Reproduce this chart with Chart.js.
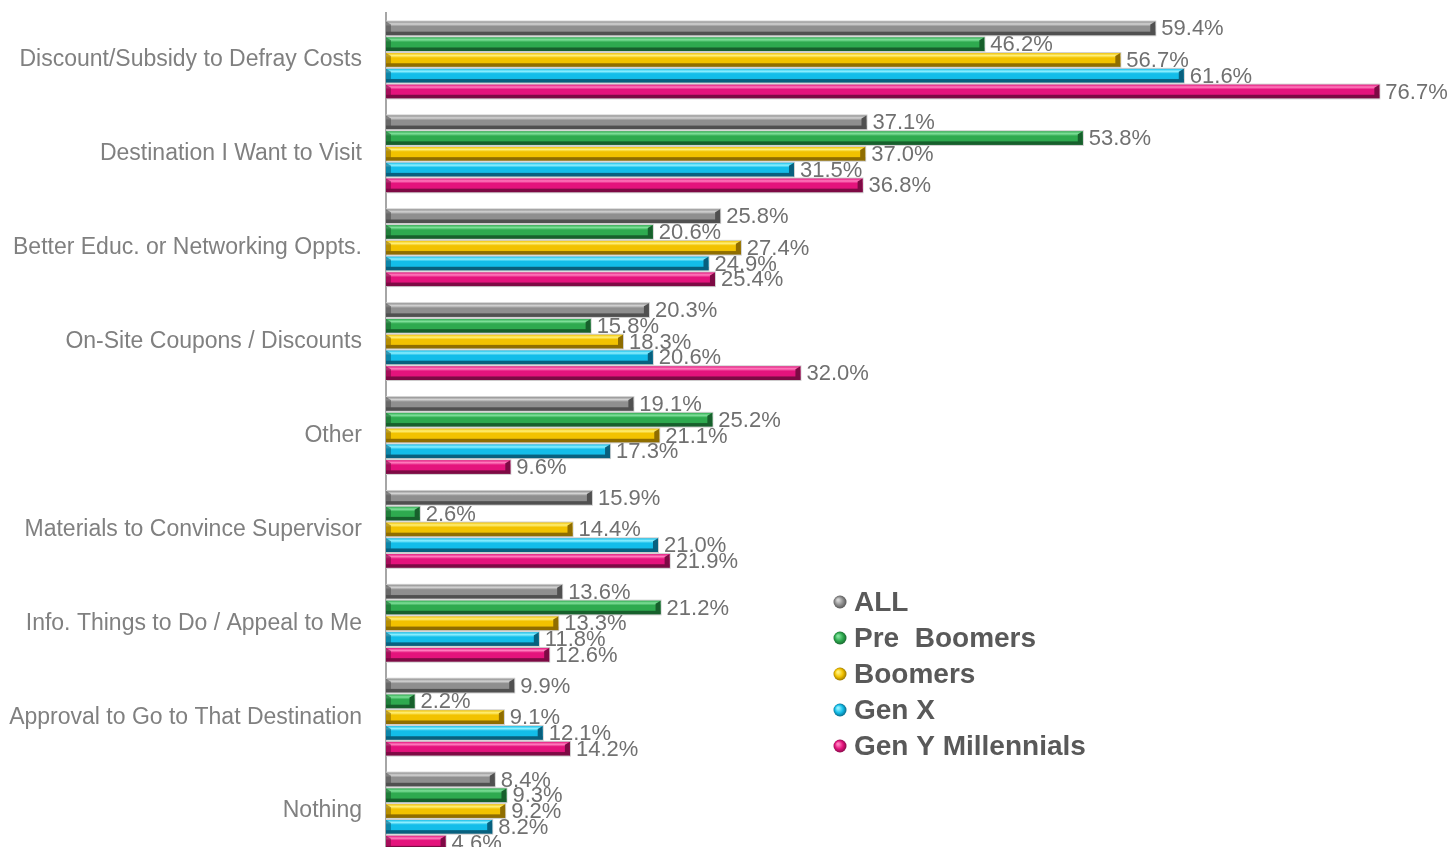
<!DOCTYPE html>
<html>
<head>
<meta charset="utf-8">
<script src="https://cdn.jsdelivr.net/npm/chart.js@4/dist/chart.umd.min.js"></script>
<style>
  html, body { margin: 0; padding: 0; background: #fff; overflow: hidden; }
  canvas { display: block; }
</style>
</head>
<body>
<canvas id="graphique" width="1451" height="862"></canvas>
<script>
// categories et séries
const categories = [
    "Discount/Subsidy to Defray Costs",
    "Destination I Want to Visit",
    "Better Educ. or Networking Oppts.",
    "On-Site Coupons / Discounts",
    "Other",
    "Materials to Convince Supervisor",
    "Info. Things to Do / Appeal to Me",
    "Approval to Go to That Destination",
    "Nothing"
];
const seriesNames = ["ALL", "Pre  Boomers", "Boomers", "Gen X", "Gen Y Millennials"];
const valAll = [59.4, 37.1, 25.8, 20.3, 19.1, 15.9, 13.6, 9.9, 8.4];
const valPreBoomers = [46.2, 53.8, 20.6, 15.8, 25.2, 2.6, 21.2, 2.2, 9.3];
const valBoomers = [56.7, 37.0, 27.4, 18.3, 21.1, 14.4, 13.3, 9.1, 9.2];
const valGenX = [61.6, 31.5, 24.9, 20.6, 17.3, 21.0, 11.8, 12.1, 8.2];
const valGenY = [76.7, 36.8, 25.4, 32.0, 9.6, 21.9, 12.6, 14.2, 4.6];

// couleurs : [clair, moyen, foncé]
const couleurs = [
    ["#d4d4d4", "#8f8f8f", "#505050"],
    ["#7fe09a", "#2eaa4f", "#17602c"],
    ["#fff07a", "#f2c200", "#8f6d00"],
    ["#8ff0ff", "#13bde9", "#08607e"],
    ["#ff7fbf", "#e4137c", "#7d0a44"]
];

const valeurs = [valAll, valPreBoomers, valBoomers, valGenX, valGenY];

const datasets = seriesNames.map((nom, i) => ({
    label: nom,
    data: valeurs[i],
    backgroundColor: couleurs[i][1],
    borderWidth: 0,
    barPercentage: 0.87,
    categoryPercentage: 0.84
}));

// Effet "cylindre" et étiquettes posés sur les barres calculées par Chart.js
const pluginBarres = {
    id: "barres3d",
    afterDatasetsDraw(chart) {
        const ctx = chart.ctx;
        chart.data.datasets.forEach((ds, di) => {
            const meta = chart.getDatasetMeta(di);
            const c = couleurs[di];
            meta.data.forEach((bar, idx) => {
                const h = bar.height;
                const top = bar.y - h / 2;
                const bot = bar.y + h / 2;
                const x0 = bar.base;
                const x1 = bar.x;
                ctx.save();
                // contour gris clair
                ctx.fillStyle = "#cfcfcf";
                ctx.fillRect(x0, top - 1, x1 - x0 + 1, h + 2);
                const g = ctx.createLinearGradient(0, top, 0, bot);
                g.addColorStop(0, c[1]);
                g.addColorStop(0.18, c[0]);
                g.addColorStop(0.35, c[1]);
                g.addColorStop(0.7, c[1]);
                g.addColorStop(0.78, c[2]);
                g.addColorStop(1, c[2]);
                ctx.fillStyle = g;
                ctx.fillRect(x0, top, x1 - x0, h);
                // biseaux des extrémités
                const b = Math.min(5, (x1 - x0) / 2);
                ctx.fillStyle = c[2];
                ctx.beginPath();
                ctx.moveTo(x1 - b, top + 3);
                ctx.lineTo(x1, top);
                ctx.lineTo(x1, bot);
                ctx.lineTo(x1 - b, bot - 3);
                ctx.closePath();
                ctx.fill();
                ctx.globalAlpha = 0.6;
                ctx.beginPath();
                ctx.moveTo(x0, top);
                ctx.lineTo(x0 + b, top + 3);
                ctx.lineTo(x0 + b, bot - 3);
                ctx.lineTo(x0, bot);
                ctx.closePath();
                ctx.fill();
                ctx.restore();

                // étiquette de valeur
                ctx.save();
                ctx.font = "22px 'Liberation Sans', Arial, sans-serif";
                ctx.fillStyle = "#707070";
                ctx.textAlign = "left";
                ctx.textBaseline = "middle";
                ctx.fillText(ds.data[idx].toFixed(1) + "%", x1 + 6, bar.y + 1);
                ctx.restore();
            });
        });
    },
    afterDraw(chart) {
        // légende avec billes
        const ctx = chart.ctx;
        chart.data.datasets.forEach((ds, i) => {
            const cx = 840;
            const cy = 602 + i * 36;
            const c = couleurs[i];
            ctx.save();
            const g = ctx.createRadialGradient(cx - 2, cy - 2, 1, cx, cy, 7);
            g.addColorStop(0, c[0]);
            g.addColorStop(0.5, c[1]);
            g.addColorStop(1, c[2]);
            ctx.fillStyle = g;
            ctx.beginPath();
            ctx.arc(cx, cy, 6.5, 0, Math.PI * 2);
            ctx.fill();
            ctx.font = "bold 28px 'Liberation Sans', Arial, sans-serif";
            ctx.fillStyle = "#595959";
            ctx.textAlign = "left";
            ctx.textBaseline = "middle";
            ctx.fillText(ds.label, 854, cy + 1);
            ctx.restore();
        });
    }
};

const canvasGraphique = document.getElementById("graphique");
const graphique = new Chart(canvasGraphique, {
    type: "bar",
    data: {
        labels: categories,
        datasets: datasets
    },
    options: {
        indexAxis: "y",
        responsive: false,
        animation: false,
        layout: {
            padding: { top: 13, right: 3, bottom: 4, left: 0 }
        },
        plugins: {
            legend: { display: false },
            tooltip: { enabled: false }
        },
        scales: {
            x: {
                display: false,
                min: 0,
                max: 82
            },
            y: {
                afterFit: (scale) => {
                    scale.width = 386;
                    scale.paddingTop = 0;
                    scale.paddingBottom = 0;
                },
                grid: { display: false, drawTicks: false },
                border: { display: true, color: "#a6a6a6", width: 2 },
                ticks: {
                    padding: 24,
                    color: "#808080",
                    font: { size: 23, family: "'Liberation Sans', Arial, sans-serif" }
                }
            }
        }
    },
    plugins: [pluginBarres]
});
</script>
</body>
</html>
